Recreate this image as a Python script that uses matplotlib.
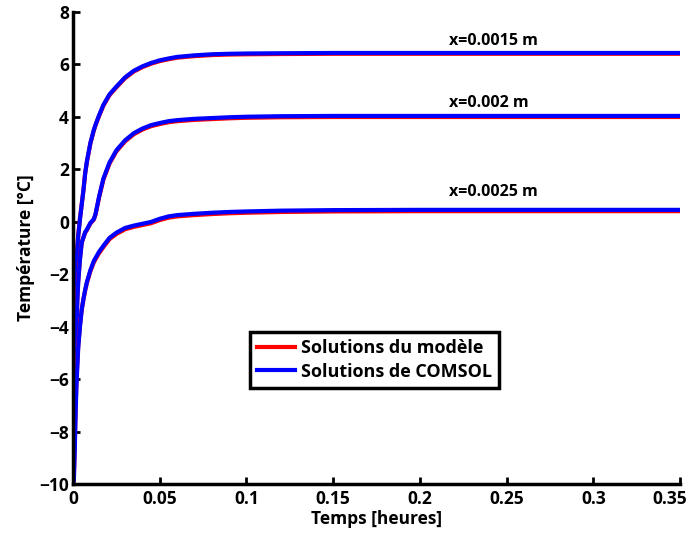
import numpy as np
import matplotlib.pyplot as plt
import matplotlib.transforms as mtransforms

plt.rcParams['font.family'] = ['Open Sans', 'DejaVu Sans']
plt.rcParams['font.weight'] = 'bold'

# temps [heures]
t = [0.0, 0.0005, 0.001, 0.0015, 0.002, 0.0025, 0.003, 0.004, 0.005, 0.006,
     0.007, 0.008, 0.010, 0.012, 0.013, 0.015, 0.0175, 0.021, 0.025, 0.03,
     0.035, 0.04, 0.045, 0.05, 0.055, 0.06, 0.07, 0.08, 0.09, 0.10,
     0.12, 0.15, 0.20, 0.25, 0.30, 0.35]

# x=0.0015 m
T1_comsol = [-10.0, -4.7, -3.4, -2.5, -1.7, -1.05, -0.55, 0.1, 0.65, 1.2,
             1.85, 2.3, 3.0, 3.5, 3.7, 4.05, 4.45, 4.85, 5.15, 5.5,
             5.75, 5.92, 6.05, 6.15, 6.22, 6.28, 6.34, 6.38, 6.4, 6.41,
             6.42, 6.43, 6.43, 6.43, 6.43, 6.43]
T1_modele = [-10.0, -4.5, -3.2, -2.35, -1.6, -0.95, -0.5, 0.12, 0.66, 1.2,
             1.84, 2.28, 2.98, 3.48, 3.68, 4.03, 4.42, 4.82, 5.12, 5.47,
             5.72, 5.89, 6.02, 6.12, 6.19, 6.25, 6.31, 6.35, 6.37, 6.38,
             6.39, 6.4, 6.4, 6.4, 6.4, 6.4]

# x=0.002 m
T2_comsol = [-10.0, -8.5, -6.9, -5.2, -4.0, -3.0, -2.3, -1.45, -0.8, -0.6,
             -0.4, -0.3, -0.05, 0.1, 0.3, 0.95, 1.64, 2.25, 2.72, 3.1,
             3.37, 3.55, 3.68, 3.76, 3.83, 3.87, 3.92, 3.95, 3.98, 4.0,
             4.02, 4.03, 4.03, 4.03, 4.03, 4.03]
T2_modele = [-10.0, -8.2, -6.6, -5.0, -3.8, -2.85, -2.2, -1.4, -0.8, -0.6,
             -0.42, -0.32, -0.07, 0.08, 0.28, 0.92, 1.6, 2.21, 2.68, 3.06,
             3.33, 3.51, 3.64, 3.72, 3.79, 3.83, 3.88, 3.91, 3.94, 3.96,
             3.98, 3.99, 3.99, 3.99, 3.99, 3.99]

# x=0.0025 m
T3_comsol = [-10.0, -9.8, -8.7, -7.3, -6.2, -5.5, -4.8, -4.0, -3.36, -2.95,
             -2.6, -2.3, -1.85, -1.5, -1.38, -1.15, -0.92, -0.62, -0.42, -0.24,
             -0.15, -0.08, -0.01, 0.11, 0.2, 0.25, 0.3, 0.34, 0.37, 0.39,
             0.42, 0.44, 0.45, 0.45, 0.45, 0.45]
T3_modele = [-10.0, -9.6, -8.4, -7.0, -6.0, -5.3, -4.7, -3.95, -3.35, -2.96,
             -2.62, -2.33, -1.89, -1.55, -1.43, -1.2, -0.97, -0.67, -0.47, -0.29,
             -0.2, -0.13, -0.06, 0.06, 0.15, 0.2, 0.25, 0.29, 0.32, 0.34,
             0.37, 0.39, 0.4, 0.4, 0.4, 0.4]

noms = ['x=0.0015 m', 'x=0.002 m', 'x=0.0025 m']
pos_noms = [(0.217, 6.87), (0.217, 4.54), (0.217, 1.12)]

fig = plt.figure(figsize=(6.89, 5.36), dpi=100)
ax = fig.add_axes([0.106, 0.097, 0.881, 0.881])

modele = [T1_modele, T2_modele, T3_modele]
comsol = [T1_comsol, T2_comsol, T3_comsol]
for i in range(3):
    ax.plot(t, modele[i], color='#ff0000', lw=3, label='Solutions du modèle' if i == 0 else None)
    ax.plot(t, comsol[i], color='#0000ff', lw=3, label='Solutions de COMSOL' if i == 0 else None)
    ax.text(pos_noms[i][0], pos_noms[i][1], noms[i], fontsize=11.5, fontweight='bold',
            va='center', ha='left')

ax.set_xlim(0, 0.35)
ax.set_ylim(-10, 8)
ax.set_xticks(np.arange(0, 0.36, 0.05))
ax.set_xticklabels(['0', '0.05', '0.1', '0.15', '0.2', '0.25', '0.3', '0.35'])
ax.set_yticks(np.arange(-10, 9, 2))
ax.spines['top'].set_visible(False)
ax.spines['right'].set_visible(False)
ax.spines['left'].set_linewidth(2.5)
ax.spines['bottom'].set_linewidth(2.5)
ax.tick_params(direction='in', width=2, length=5, labelsize=12.5, pad=3)
ax.tick_params(axis='x', pad=4)
for lab in ax.get_xticklabels() + ax.get_yticklabels():
    lab.set_fontweight('bold')
# derniere etiquette decalee pour rester dans la figure
dernier = ax.get_xticklabels()[-1]
dernier.set_transform(dernier.get_transform() + mtransforms.ScaledTranslation(-0.1, 0, fig.dpi_scale_trans))
ax.set_xlabel('Temps [heures]', fontsize=12.5, fontweight='bold', labelpad=2)
ax.set_ylabel('Température [°C]', fontsize=12.5, fontweight='bold', labelpad=3)

leg = ax.legend(loc='upper left', bbox_to_anchor=(0.2916, 0.322), fontsize=13,
                frameon=True, fancybox=False, framealpha=1, handlelength=2.1,
                borderpad=0.4, labelspacing=0.3, handletextpad=0.3, borderaxespad=0)
leg.get_frame().set_edgecolor('black')
leg.get_frame().set_linewidth(2.5)
for txt in leg.get_texts():
    txt.set_fontweight('bold')

fig.savefig('out.png', dpi=100)
